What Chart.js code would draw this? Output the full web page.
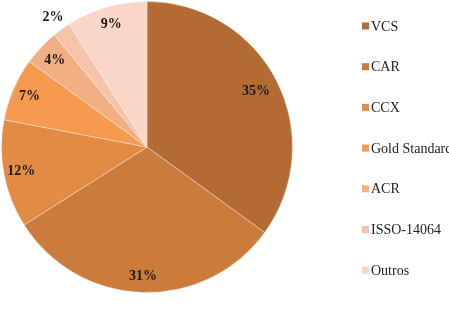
<!DOCTYPE html>
<html>
<head>
<meta charset="utf-8">
<script src="https://cdn.jsdelivr.net/npm/chart.js@4/dist/chart.umd.min.js"></script>
<style>
  html, body { margin: 0; padding: 0; background: #fff; }
  #wrap { position: relative; width: 449px; height: 334px; }
</style>
</head>
<body>
<div id="wrap"><canvas id="pieChart" width="449" height="334"></canvas></div>
<script>
// data
const categories = ['VCS', 'CAR', 'CCX', 'Gold Standard', 'ACR', 'ISSO-14064', 'Outros'];
const shares = [35, 31, 12, 7, 4, 2, 9];
const sliceColors = ['#B36B33', '#CB7C3C', '#E28B45', '#F59A4E', '#F3AF84', '#F5C4AA', '#F9D6C7'];

// label distance from centre, as a fraction of the radius
const labelRadius = [0.84, 0.89, 0.88, 0.88, 0.87, 1.10, 0.88];

const pctLabels = {
  id: 'pctLabels',
  afterDatasetsDraw(chart) {
    const ctx = chart.ctx;
    const meta = chart.getDatasetMeta(0);
    ctx.save();
    ctx.font = 'bold 14px "Liberation Serif", "Times New Roman", serif';
    ctx.fillStyle = '#1a1a1a';
    ctx.textAlign = 'center';
    ctx.textBaseline = 'middle';
    meta.data.forEach((arc, i) => {
      const p = arc.getProps(['x', 'y', 'startAngle', 'endAngle', 'outerRadius'], true);
      const mid = (p.startAngle + p.endAngle) / 2;
      const r = p.outerRadius * labelRadius[i];
      ctx.fillText(shares[i] + '%', p.x + Math.cos(mid) * r, p.y + Math.sin(mid) * r);
    });
    ctx.restore();
  }
};

// legend drawn on the canvas, right side
const sideLegend = {
  id: 'sideLegend',
  afterDraw(chart) {
    const ctx = chart.ctx;
    ctx.save();
    ctx.font = '14px "Liberation Serif", "Times New Roman", serif';
    ctx.textBaseline = 'middle';
    categories.forEach((name, i) => {
      const y = 26 + i * 40.7;
      ctx.fillStyle = sliceColors[i];
      ctx.fillRect(362, y - 3.5, 7, 7);
      ctx.fillStyle = '#222';
      ctx.fillText(name, 371, y + 1);
    });
    ctx.restore();
  }
};

new Chart(document.getElementById('pieChart').getContext('2d'), {
  type: 'pie',
  data: {
    labels: categories,
    datasets: [{
      data: shares,
      backgroundColor: sliceColors,
      borderColor: 'rgba(255,255,255,0.35)',
      borderWidth: 1
    }]
  },
  options: {
    responsive: false,
    animation: false,
    layout: { padding: { left: 1, top: 1, right: 156, bottom: 41 } },
    plugins: {
      legend: { display: false },
      tooltip: { enabled: false }
    }
  },
  plugins: [pctLabels, sideLegend]
});
</script>
</body>
</html>
